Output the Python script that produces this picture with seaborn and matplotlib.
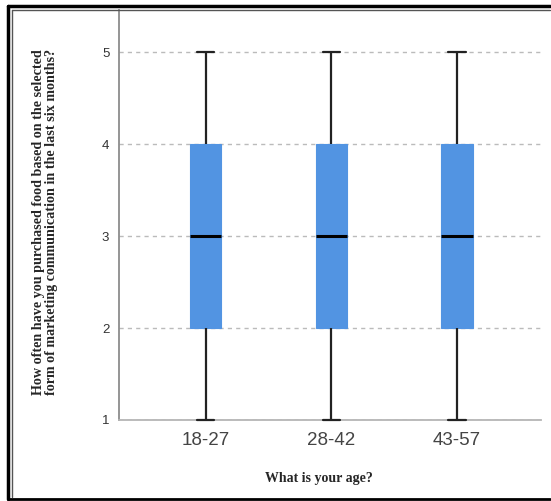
import numpy as np
import pandas as pd
import matplotlib.pyplot as plt
import seaborn as sns
from matplotlib.lines import Line2D

# answers on the 1-5 scale, per age group (box: 1 / 2 / 3 / 4 / 5)
age_groups = ['18-27', '28-42', '43-57']
answers_18_27 = [1, 2, 3, 4, 5]
answers_28_42 = [1, 2, 3, 4, 5]
answers_43_57 = [1, 2, 3, 4, 5]

df = pd.DataFrame({
    'age': np.repeat(age_groups, 5),
    'answer': answers_18_27 + answers_28_42 + answers_43_57,
})

sns.set_style('white')
plt.rcParams['font.family'] = ['Liberation Sans', 'DejaVu Sans']

fig = plt.figure(figsize=(5.51, 5.01), dpi=100)
ax = fig.add_axes([0.216, 0.1617, 0.766, 0.8183])

sns.boxplot(data=df, x='age', y='answer', order=age_groups, ax=ax,
            color='#5294e2', width=0.25, whis=1.5, showfliers=False,
            linewidth=1.5,
            boxprops=dict(facecolor='#5294e2', edgecolor='#5294e2', linewidth=0.8),
            medianprops=dict(color='black', linewidth=2.2),
            whiskerprops=dict(color='#222222', linewidth=1.6),
            capprops=dict(color='#222222', linewidth=1.6),
            capwidths=0.14)

# keep the bottom caps visible on the spine
for ln in ax.lines:
    ln.set_clip_on(False)
    ln.set_zorder(5)

ax.set_ylim(1, 5.46)
ax.set_xlim(-0.69, 2.67)
ax.set_yticks([1, 2, 3, 4, 5])
ax.yaxis.grid(True, linestyle=(0, (3, 3)), color='#bbbbbb', linewidth=1)
ax.set_axisbelow(True)

for s in ['top', 'right']:
    ax.spines[s].set_visible(False)
ax.spines['left'].set_color('#8c8c8c')
ax.spines['left'].set_linewidth(1.3)
ax.spines['bottom'].set_color('#b5b5b5')
ax.spines['bottom'].set_linewidth(1.3)

ax.tick_params(axis='y', length=0, pad=7, labelsize=9.5, labelcolor='#333333')
ax.tick_params(axis='x', length=0, pad=9, labelsize=13.5, labelcolor='#444444')
ax.set_xlabel('')
ax.set_ylabel('')

fig.text(0.579, 0.044, 'What is your age?', ha='center', va='center',
         family='Liberation Serif', fontweight='bold', fontsize=10)
fig.text(0.081, 0.557,
         'How often have you purchased food based on the selected\n'
         'form of marketing communication in the last six months?',
         ha='center', va='center', rotation=90, linespacing=1.0,
         family='Liberation Serif', fontweight='bold', fontsize=10.2)

# page frame around the figure (no right edge in the reference)
fig.add_artist(Line2D([0.015, 0.999], [0.988, 0.988], color='black', linewidth=2.5))
fig.add_artist(Line2D([0.015, 0.015], [0.004, 0.988], color='black', linewidth=2.5))
fig.add_artist(Line2D([0.015, 0.999], [0.004, 0.004], color='black', linewidth=2.0))
fig.add_artist(Line2D([0.022, 0.999], [0.981, 0.981], color='#555555', linewidth=1))
fig.add_artist(Line2D([0.022, 0.022], [0.008, 0.981], color='#555555', linewidth=1))

fig.savefig('out.png', dpi=100)
